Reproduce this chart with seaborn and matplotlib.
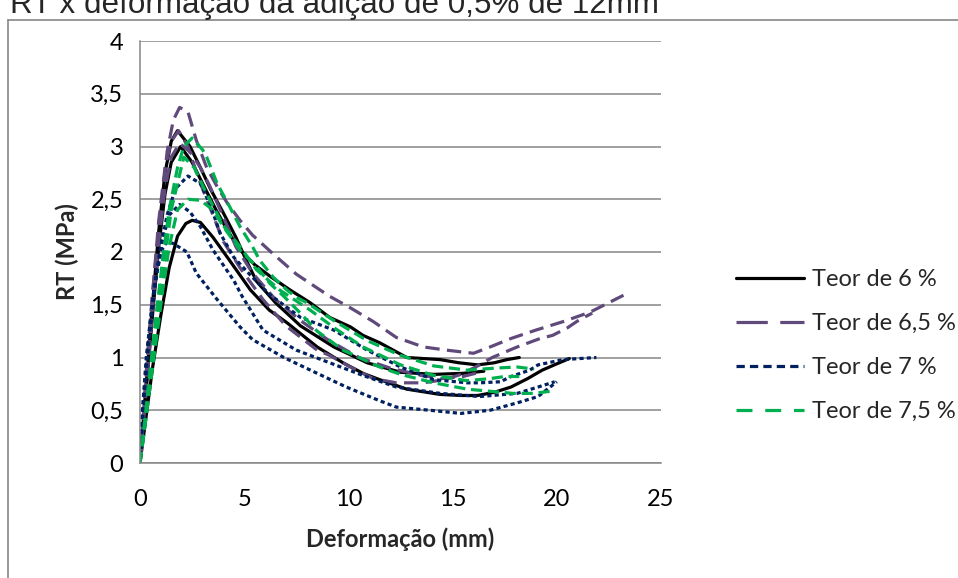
import matplotlib
matplotlib.use("Agg")
import matplotlib.pyplot as plt
from matplotlib.lines import Line2D
from matplotlib.ticker import FuncFormatter, MultipleLocator
import pandas as pd
import seaborn as sns

# ---- ensaios de resistência à tração (RT) x deformação ----
teores = ["Teor de 6 %", "Teor de 6,5 %", "Teor de 7 %", "Teor de 7,5 %"]

# Teor de 6 %
cp6a_x = [0, 0.3, 0.6, 0.9, 1.2, 1.5, 1.8, 2.4, 2.9, 3.4, 4.0, 4.6, 5.1, 5.6, 6.5, 7.7, 9.3, 10.9, 12.5, 14.1, 15.5, 16.5]
cp6a_y = [0, 0.75, 1.5, 2.2, 2.75, 3.05, 3.15, 3.0, 2.8, 2.59, 2.37, 2.14, 1.92, 1.72, 1.52, 1.3, 1.1, 0.95, 0.86, 0.84, 0.85, 0.87]
cp6b_x = [0, 0.3, 0.6, 0.9, 1.2, 1.5, 1.95, 2.5, 3.0, 3.7, 4.3, 4.8, 5.5, 6.24, 7.2, 8.16, 9.1, 10.1, 10.7, 11.5, 12.8, 14.4, 15.3, 16.2, 17.0, 17.6, 18.2]
cp6b_y = [0, 0.7, 1.4, 2.05, 2.55, 2.85, 3.0, 2.85, 2.65, 2.38, 2.17, 2.02, 1.88, 1.77, 1.64, 1.52, 1.38, 1.29, 1.21, 1.14, 1.0, 0.98, 0.95, 0.93, 0.95, 0.98, 1.0]
cp6c_x = [0, 0.3, 0.6, 1.0, 1.4, 1.8, 2.2, 2.5, 2.9, 3.5, 4.3, 5.3, 6.2, 7.05, 8.5, 9.74, 10.7, 11.5, 12.8, 14.4, 15.4, 16.2, 17.0, 17.8, 18.6, 19.3, 20.0, 20.6]
cp6c_y = [0, 0.45, 0.9, 1.4, 1.85, 2.15, 2.27, 2.3, 2.28, 2.14, 1.92, 1.64, 1.45, 1.33, 1.1, 0.95, 0.85, 0.79, 0.7, 0.65, 0.64, 0.64, 0.67, 0.72, 0.8, 0.88, 0.94, 0.99]

# Teor de 6,5 %
cp65a_x = [0, 0.1, 0.34, 0.58, 0.8, 1.06, 1.3, 1.6, 1.9, 2.3, 2.7, 3.2, 3.7, 4.2, 4.8, 5.4, 6.4, 7.5, 9.1, 10.1, 11.2, 12.3, 13.6, 14.7, 16.0, 16.8, 17.8, 19.0, 20.3, 21.6, 23.2]
cp65a_y = [0, 0.28, 0.98, 1.55, 2.02, 2.49, 2.95, 3.25, 3.37, 3.33, 3.06, 2.8, 2.62, 2.46, 2.3, 2.16, 1.98, 1.79, 1.58, 1.47, 1.34, 1.19, 1.1, 1.07, 1.04, 1.1, 1.18, 1.26, 1.34, 1.43, 1.59]
cp65b_x = [0, 0.3, 0.6, 0.9, 1.2, 1.5, 1.85, 2.3, 2.8, 3.4, 4.0, 4.8, 5.9, 7.0, 8.5, 9.1, 10.0, 11.2, 12.3, 13.6, 14.6, 15.4, 16.2, 16.9, 18.1, 19.2, 19.8, 20.5, 21.1, 21.7]
cp65b_y = [0, 0.8, 1.6, 2.3, 2.8, 3.05, 3.15, 3.0, 2.7, 2.4, 2.1, 1.85, 1.55, 1.3, 1.07, 1.02, 0.92, 0.8, 0.76, 0.76, 0.79, 0.84, 0.92, 1.0, 1.1, 1.18, 1.21, 1.28, 1.36, 1.42]
cp65c_x = [0, 0.3, 0.6, 0.9, 1.2, 1.5, 1.9, 2.4, 2.9, 3.36, 4.2, 4.6, 5.4, 6.5, 7.7, 9.0, 10.5, 12.0, 13.5, 14.5, 15.5, 16.3]
cp65c_y = [0, 0.7, 1.45, 2.1, 2.6, 2.9, 3.03, 2.95, 2.8, 2.62, 2.24, 2.05, 1.8, 1.55, 1.35, 1.17, 1.0, 0.9, 0.83, 0.8, 0.82, 0.86]

# Teor de 7 %
cp7a_x = [0, 0.15, 0.4, 0.7, 1.0, 1.3, 1.7, 2.3, 2.9, 3.4, 3.84, 4.5, 5.3, 6.2, 7.7, 9.3, 10.9, 12.5, 14.1, 15.7, 16.3, 17.3, 17.8, 18.7, 19.1, 20.3, 21.9]
cp7a_y = [0, 0.5, 1.1, 1.65, 2.05, 2.35, 2.6, 2.72, 2.65, 2.43, 2.18, 1.95, 1.78, 1.6, 1.38, 1.26, 1.07, 0.91, 0.79, 0.76, 0.76, 0.77, 0.82, 0.88, 0.93, 0.98, 1.0]
cp7b_x = [0, 0.15, 0.4, 0.7, 1.0, 1.4, 1.9, 2.4, 2.9, 3.5, 4.5, 4.9, 5.9, 7.5, 9.1, 10.7, 12.3, 14.4, 16.3, 18.1, 19.1, 19.9]
cp7b_y = [0, 0.55, 1.15, 1.7, 2.05, 2.35, 2.45, 2.38, 2.24, 2.02, 1.73, 1.58, 1.26, 1.07, 0.95, 0.83, 0.72, 0.66, 0.63, 0.66, 0.72, 0.77]
cp7c_x = [0, 0.1, 0.3, 0.55, 0.8, 1.05, 1.3, 1.6, 2.25, 2.7, 3.7, 4.8, 5.4, 6.9, 8.5, 9.9, 11.5, 12.3, 13.9, 15.4, 16.8, 18.1, 19.1, 20.0]
cp7c_y = [0, 0.45, 1.0, 1.45, 1.8, 2.02, 2.1, 2.08, 2.0, 1.8, 1.55, 1.29, 1.17, 1.0, 0.85, 0.72, 0.59, 0.53, 0.5, 0.47, 0.5, 0.57, 0.63, 0.77]

# Teor de 7,5 %
cp75a_x = [0, 0.2, 0.5, 0.8, 1.1, 1.4, 1.8, 2.1, 2.5, 3.0, 3.2, 3.7, 4.3, 4.8, 5.4, 5.75, 6.4, 7.05, 7.5, 8.0, 9.3, 10.9, 12.5, 14.1, 15.7, 17.1, 18.1, 18.9]
cp75a_y = [0, 0.35, 0.9, 1.45, 1.95, 2.4, 2.8, 3.0, 3.08, 2.97, 2.9, 2.65, 2.43, 2.24, 2.05, 1.92, 1.76, 1.64, 1.57, 1.52, 1.35, 1.16, 1.02, 0.92, 0.88, 0.9, 0.91, 0.89]
cp75b_x = [0, 0.2, 0.5, 0.8, 1.1, 1.5, 2.1, 2.6, 3.2, 4.0, 4.8, 5.6, 6.7, 8.16, 9.4, 10.7, 12.5, 14.1, 15.7, 16.8, 17.5, 18.2]
cp75b_y = [0, 0.3, 0.8, 1.3, 1.8, 2.4, 2.9, 2.8, 2.55, 2.25, 2.05, 1.83, 1.64, 1.45, 1.27, 1.1, 0.93, 0.83, 0.78, 0.8, 0.82, 0.82]
cp75c_x = [0, 0.2, 0.5, 0.8, 1.1, 1.4, 1.8, 2.3, 2.9, 3.5, 4.0, 4.8, 5.6, 6.24, 6.9, 7.7, 8.5, 9.74, 11.5, 12.5, 14.1, 15.7, 16.8, 17.9, 18.9, 19.7]
cp75c_y = [0, 0.3, 0.75, 1.2, 1.65, 2.05, 2.4, 2.5, 2.49, 2.4, 2.24, 2.02, 1.86, 1.7, 1.58, 1.42, 1.25, 1.07, 0.91, 0.84, 0.76, 0.7, 0.68, 0.66, 0.66, 0.68]

corpos = {
    "Teor de 6 %": [(cp6a_x, cp6a_y), (cp6b_x, cp6b_y), (cp6c_x, cp6c_y)],
    "Teor de 6,5 %": [(cp65a_x, cp65a_y), (cp65b_x, cp65b_y), (cp65c_x, cp65c_y)],
    "Teor de 7 %": [(cp7a_x, cp7a_y), (cp7b_x, cp7b_y), (cp7c_x, cp7c_y)],
    "Teor de 7,5 %": [(cp75a_x, cp75a_y), (cp75b_x, cp75b_y), (cp75c_x, cp75c_y)],
}

linhas = []
for teor, cps in corpos.items():
    for i, (xs, ys) in enumerate(cps):
        for x, y in zip(xs, ys):
            linhas.append({"teor": teor, "cp": f"{teor} #{i + 1}", "deformacao": x, "rt": y})
df = pd.DataFrame(linhas)

cores = {"Teor de 6 %": "#000000", "Teor de 6,5 %": "#604A7B",
         "Teor de 7 %": "#002060", "Teor de 7,5 %": "#00B050"}
tracos = {"Teor de 6 %": "", "Teor de 6,5 %": (4.5, 2.3),
          "Teor de 7 %": (1.3, 1.0), "Teor de 7,5 %": (3.5, 1.8)}
tracos_legenda = {"Teor de 6 %": "", "Teor de 6,5 %": (9.8, 3.9),
                  "Teor de 7 %": (2.6, 1.6), "Teor de 7,5 %": (5.0, 4.0)}

sns.set_style("white")
plt.rcParams["font.family"] = ["Lato", "DejaVu Sans"]

W, H = 958, 578
fig = plt.figure(figsize=(W / 100, H / 100), dpi=100)
ax = fig.add_axes([140 / W, 1 - 463 / H, (661 - 140) / W, (463 - 41) / H])

sns.lineplot(data=df, x="deformacao", y="rt", hue="teor", style="teor", units="cp",
             estimator=None, sort=False, hue_order=teores, style_order=teores,
             palette=cores, dashes=tracos, linewidth=2.3, legend=False, ax=ax)

cinza = "#868686"
ax.set_xlim(0, 25)
ax.set_ylim(0, 4)
ax.xaxis.set_major_locator(MultipleLocator(5))
ax.yaxis.set_major_locator(MultipleLocator(0.5))
virgula = FuncFormatter(lambda v, _: f"{v:g}".replace(".", ","))
ax.yaxis.set_major_formatter(virgula)
ax.xaxis.set_major_formatter(virgula)
ax.yaxis.grid(True, color=cinza, linewidth=1.1)
ax.xaxis.grid(False)
ax.set_axisbelow(True)
for lado in ("top", "right"):
    ax.spines[lado].set_visible(False)
for lado in ("left", "bottom"):
    ax.spines[lado].set_color(cinza)
    ax.spines[lado].set_linewidth(1.1)
ax.tick_params(axis="both", direction="out", length=7, width=1.1, color=cinza,
               labelsize=17, labelcolor="black")
ax.tick_params(axis="y", pad=5)
ax.tick_params(axis="x", pad=12)

ax.set_xlabel("Deformação (mm)", fontsize=17, fontweight="bold", labelpad=12)
ax.set_ylabel("RT (MPa)", fontsize=17, fontweight="bold", labelpad=8)

# legenda
handles = [Line2D([], [], color=cores[t], linewidth=2.3, dashes=tracos_legenda[t] or (None, None))
           for t in teores]
handles[0].set_linestyle("-")
fig.legend(handles, teores, loc="center left", bbox_to_anchor=(736 / W, 1 - 345.5 / H),
           frameon=False, fontsize=17, handlelength=2.9, handletextpad=0.3,
           labelspacing=0.98, borderpad=0, borderaxespad=0)

# moldura da área do gráfico e título
xf, yf = 8 / W, 1 - 20 / H
fig.add_artist(Line2D([xf, xf], [0, yf], color=cinza, linewidth=1.2, transform=fig.transFigure))
fig.add_artist(Line2D([xf, 1], [yf, yf], color=cinza, linewidth=1.2, transform=fig.transFigure))
fig.text(10 / W, 1 - 13 / H, "RT x deformação da adição de 0,5% de 12mm", ha="left",
         va="baseline", fontsize=22.6, family=["Liberation Sans", "DejaVu Sans"])

fig.savefig("out.png", dpi=100)
